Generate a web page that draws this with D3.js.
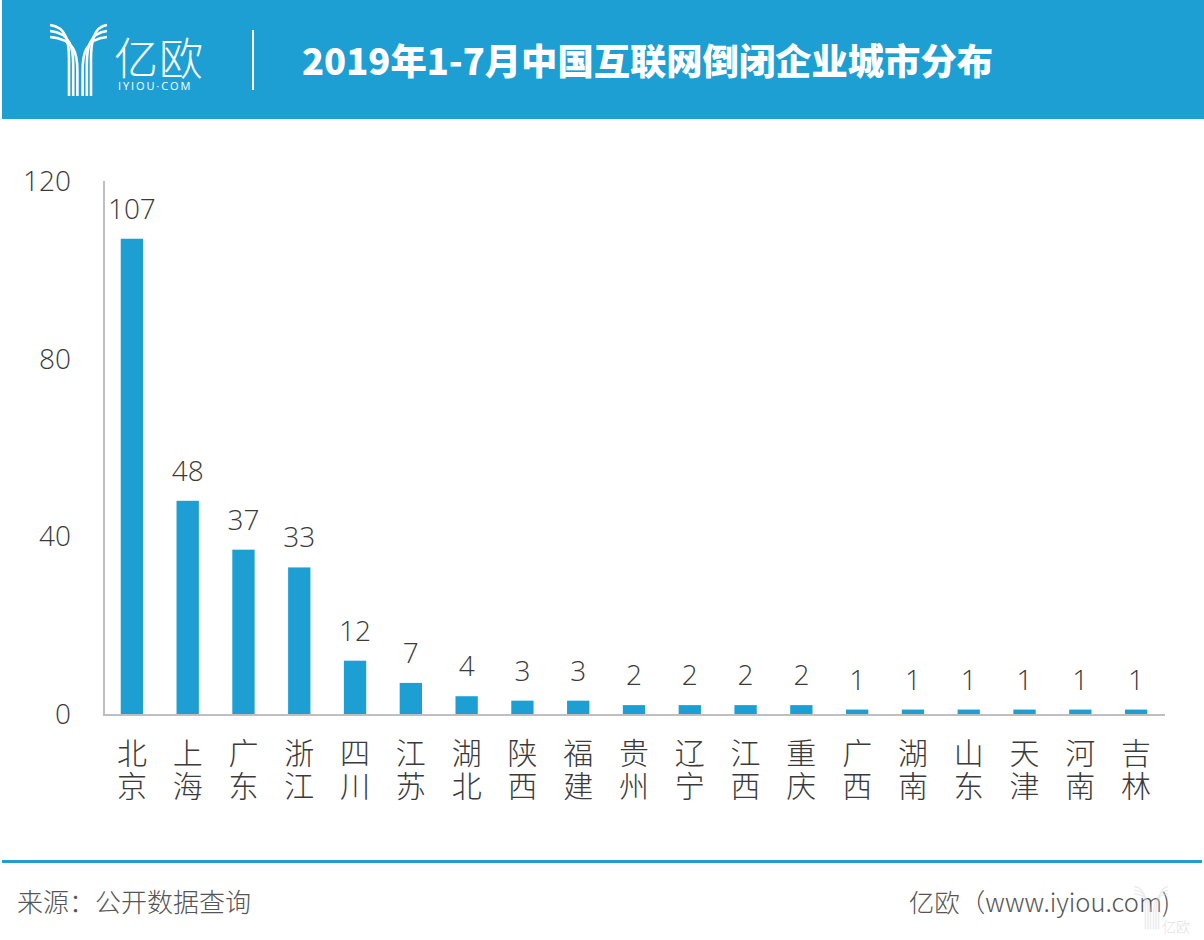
<!DOCTYPE html>
<html><head><meta charset="utf-8">
<script src="https://cdn.jsdelivr.net/npm/d3@7"></script>
<style>
html,body{margin:0;padding:0;background:#fff;}
svg{display:block;}
</style></head>
<body>
<script>
const categories = ["北京","上海","广东","浙江","四川","江苏","湖北","陕西","福建","贵州","辽宁","江西","重庆","广西","湖南","山东","天津","河南","吉林"];
const values = [107,48,37,33,12,7,4,3,3,2,2,2,2,1,1,1,1,1,1];
const yTicks = [0,40,80,120];
const titleText = "2019年1-7月中国互联网倒闭企业城市分布";
const sourceText = "来源：公开数据查询";
const creditText = "亿欧（www.iyiou.com)";

const W = 1204, H = 940;
const BLUE = "#1e9fd3";
const CJK = "'Noto Sans CJK SC','Noto Sans',sans-serif";

const svg = d3.select("body").append("svg").attr("width", W).attr("height", H);
svg.append("rect").attr("width", W).attr("height", H).attr("fill", "#fff");

// header
svg.append("rect").attr("x", 2).attr("y", 0).attr("width", W - 2).attr("height", 119).attr("fill", BLUE);

// logo
function drawLogo(g, color, sw) {
  for (let i = 0; i < 3; i++) {
    const y0 = 25 + i * 6;
    const xl = 69 + i * 4.2;
    g.append("path")
      .attr("d", `M50,${y0} C${xl - 2},${y0 + 2} ${xl},${y0 + 18} ${xl},${y0 + 34} L${xl},96`)
      .attr("fill", "none").attr("stroke", color).attr("stroke-width", sw);
    const xr = 91 - i * 4.2;
    g.append("path")
      .attr("d", `M107,${y0} C${xr + 2},${y0 + 2} ${xr},${y0 + 18} ${xr},${y0 + 34} L${xr},96`)
      .attr("fill", "none").attr("stroke", color).attr("stroke-width", sw);
  }
}
drawLogo(svg.append("g"), "#fff", 2.6);
const wordmark = svg.append("text").attr("fill", "#fff").attr("font-family", CJK);
wordmark.append("tspan").attr("x", 114).attr("y", 75)
  .attr("font-weight", 200).attr("font-size", 44).attr("letter-spacing", 1).text("亿欧");
wordmark.append("tspan").attr("x", 118).attr("y", 90)
  .attr("font-family", "'Open Sans',sans-serif").attr("font-size", 11).attr("letter-spacing", 1.9).text("IYIOU·COM");
svg.append("line").attr("x1", 253).attr("x2", 253).attr("y1", 30).attr("y2", 90)
  .attr("stroke", "#fff").attr("stroke-width", 2);
svg.append("text").attr("x", 302).attr("y", 75).attr("fill", "#fff")
  .attr("font-family", CJK).attr("font-weight", 900).attr("font-size", 36.3).text(titleText);

// chart
const x0 = 104, x1 = 1164, yTop = 181, yBase = 714;
const x = d3.scaleBand().domain(categories).range([x0, x1]).paddingInner(0.6).paddingOuter(0.3);
const y = d3.scaleLinear().domain([0, 120]).range([yBase, yTop]);

const labelFont = "'Open Sans','Noto Sans',sans-serif";
const TXT = "#3a3a3a";

// y tick labels
svg.append("g").selectAll("text").data(yTicks).join("text")
  .attr("x", 71).attr("y", d => y(d)).attr("dy", "0.36em")
  .attr("text-anchor", "end").attr("fill", TXT)
  .attr("font-family", labelFont).attr("font-weight", 300).attr("font-size", 28)
  .text(d => d);

// bars
svg.append("g").selectAll("rect").data(values).join("rect")
  .attr("x", (d, i) => x(categories[i]))
  .attr("y", d => y(d))
  .attr("width", x.bandwidth())
  .attr("height", d => y(0) - y(d))
  .attr("fill", BLUE);

// value labels
svg.append("g").selectAll("text").data(values).join("text")
  .attr("x", (d, i) => x(categories[i]) + x.bandwidth() / 2)
  .attr("y", d => y(d) - 20)
  .attr("text-anchor", "middle").attr("fill", TXT)
  .attr("font-family", labelFont).attr("font-weight", 300).attr("font-size", 28)
  .text(d => d);

// axes lines
svg.append("line").attr("x1", x0).attr("x2", x0).attr("y1", yTop).attr("y2", yBase + 1)
  .attr("stroke", "#bfbfbf").attr("stroke-width", 2);
svg.append("line").attr("x1", x0 - 1).attr("x2", 1165).attr("y1", yBase + 1).attr("y2", yBase + 1)
  .attr("stroke", "#bfbfbf").attr("stroke-width", 2);

// category labels (vertical text, 2 chars)
svg.append("g").selectAll("text").data(categories).join("text")
  .attr("x", c => x(c) + x.bandwidth() / 2)
  .attr("y", 738)
  .attr("writing-mode", "vertical-rl")
  .attr("letter-spacing", 3)
  .attr("fill", TXT)
  .attr("font-family", CJK).attr("font-weight", 200).attr("font-size", 30)
  .text(c => c);

// footer
svg.append("rect").attr("x", 2).attr("y", 860).attr("width", W - 4).attr("height", 3).attr("fill", BLUE);
svg.append("text").attr("x", 17).attr("y", 912).attr("fill", "#555")
  .attr("font-family", CJK).attr("font-weight", 300).attr("font-size", 26).text(sourceText);
svg.append("text").attr("x", 1170).attr("y", 912).attr("text-anchor", "end").attr("fill", "#555")
  .attr("font-family", CJK).attr("font-weight", 300).attr("font-size", 25.5).text(creditText);

// watermark
const wm = svg.append("g").attr("transform", "translate(1134,886) scale(0.6)").attr("opacity", 0.5);
drawLogo(wm.append("g").attr("transform", "translate(-50,-24)"), "#ddd", 2.6);
svg.append("text").attr("x", 1162).attr("y", 932).attr("fill", "#e2e2e2")
  .attr("font-family", CJK).attr("font-weight", 300).attr("font-size", 14).text("亿欧");
</script>
</body></html>
